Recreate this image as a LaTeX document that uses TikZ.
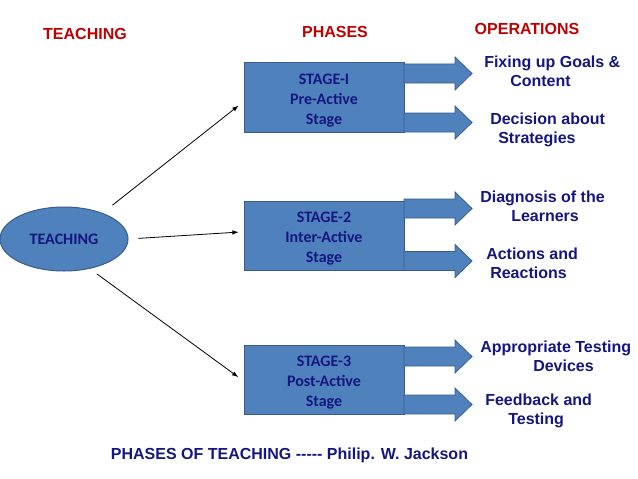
\documentclass[tikz,border=0pt]{standalone}
\usepackage{fontspec}
\setmainfont{Liberation Sans}
\newfontfamily\stagefont{Carlito}
\usetikzlibrary{arrows,shapes,positioning}
\definecolor{boxblue}{RGB}{79,129,189}
\definecolor{boxline}{RGB}{56,93,138}
\definecolor{navytext}{RGB}{22,22,128}
\definecolor{headred}{RGB}{192,0,0}
\newcommand{\stagelines}[3]{\rule{0pt}{12.3pt}#1\\#2\\#3}
\tikzset{
    heading/.style={font=\bfseries\fontsize{12}{14}\selectfont, text=headred, inner sep=0},
    caption/.style={font=\bfseries\fontsize{12}{14}\selectfont, text=navytext, inner sep=0},
    operation/.style={font=\bfseries\fontsize{12}{14.25}\selectfont, text=navytext, align=left, inner sep=0, anchor=west},
    phase box/.style={rectangle, draw=boxline, fill=boxblue, line width=0.75pt,
        minimum width=120pt, minimum height=51.75pt, inner sep=0, align=center,
        font=\stagefont\bfseries\fontsize{12}{15}\selectfont, text=navytext},
    root/.style={ellipse, draw=boxline, fill=boxblue, line width=0.75pt,
        minimum width=96pt, minimum height=48pt, inner sep=0,
        font=\stagefont\bfseries\fontsize{12}{15}\selectfont, text=navytext},
    block arrow/.pic={
        \draw[draw=boxline, fill=boxblue, line width=0.6pt]
            (0,-9.5) -- (51,-9.5) -- (51,-16.5) -- (68,0) -- (51,16.5) -- (51,9.5) -- (0,9.5) -- cycle;}
}
\begin{document}
\begin{tikzpicture}[x=0.75pt,y=-0.75pt,>=latex]
    \useasboundingbox (0,0) rectangle (638,478);
    % headings
    \node[heading] (h1) at (85,34) {TEACHING};
    \node[heading] (h2) at (335,32) {PHASES};
    \node[heading] (h3) at (527,29) {OPERATIONS};
    % teaching and its three phases
    \node[root] (teach) at (64,239) {TEACHING};
    \node[phase box] (stage1) at (324,97.5) {\stagelines{STAGE-I}{Pre-Active}{Stage}};
    \node[phase box] (stage2) at (324,236) {\stagelines{STAGE-2}{Inter-Active}{Stage}};
    \node[phase box] (stage3) at (324,379.5) {\stagelines{STAGE-3}{Post-Active}{Stage}};
    \draw[->, line width=0.6pt, shorten <=9.4pt, shorten >=4.8pt] (teach.34.5) -- (stage1.183.2);
    \draw[->, line width=0.6pt, shorten <=7.5pt, shorten >=3.75pt] (teach.0) -- (stage2.177.6);
    \draw[->, line width=0.6pt, shorten <=6.5pt, shorten >=5pt] (teach.-49.3) -- (stage3.181);
    % block arrows
    \pic at (404,73.5) {block arrow};
    \pic at (404,122.5) {block arrow};
    \pic at (404,208.5) {block arrow};
    \pic at (404,261) {block arrow};
    \pic at (404,356.5) {block arrow};
    \pic at (404,404.5) {block arrow};
    % operations
    \node[operation] (op1) at (484,71.5) {Fixing up Goals \&\\\hspace*{19.5pt}Content};
    \node[operation] (op2) at (490,129.5) {Decision about\\\hspace*{6pt}Strategies};
    \node[operation] (op3) at (480,206.5) {Diagnosis of the\\\hspace*{23.25pt}Learners};
    \node[operation] (op4) at (486,263.5) {Actions and\\\hspace*{3pt}Reactions};
    \node[operation] (op5) at (480,356) {Appropriate Testing\\\hspace*{39.75pt}Devices};
    \node[operation] (op6) at (485,410.5) {Feedback and\\\hspace*{17.25pt}Testing};
    \node[caption] (title) at (289.5,455) {PHASES OF TEACHING {-}{-}{-}{-}{-} Philip. W. Jackson};
\end{tikzpicture}
\end{document}
